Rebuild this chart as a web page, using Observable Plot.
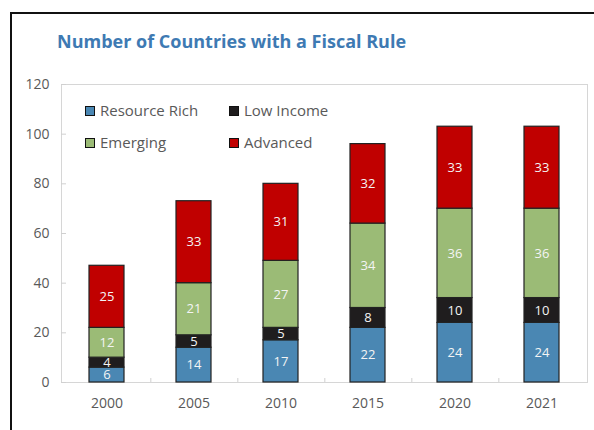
<!DOCTYPE html>
<html>
<head>
<meta charset="utf-8">
<script src="https://cdn.jsdelivr.net/npm/d3@7"></script>
<script src="https://cdn.jsdelivr.net/npm/@observablehq/plot@0.6"></script>
<style>
  html, body { margin: 0; padding: 0; background: #fff; }
  #page { position: relative; width: 594px; height: 430px; overflow: hidden; font-family: "Open Sans", "Noto Sans", sans-serif; background: #fff; }
  #frame { position: absolute; left: 10px; top: 12px; width: 700px; height: 600px; border-left: 2px solid #111; border-top: 2px solid #111; z-index: 3; pointer-events: none; }
  #title { position: absolute; left: 57px; top: 29px; font-size: 18px; font-weight: 700; color: #3e7ab3; white-space: nowrap; }
  #chart { position: absolute; left: 0; top: 60px; }
  .leg { position: absolute; font-size: 15px; color: #595959; white-space: nowrap; line-height: 18px; }
  .leg span.sw { display: inline-block; width: 8px; height: 8px; border: 1px solid #111; margin-right: 5px; vertical-align: 0px; }
</style>
</head>
<body>
<div id="page">
  <div id="chart"></div>
  <div id="title"></div>
  <div id="legend"></div>
  <div id="frame"></div>
</div>
<script>
const title = "Number of Countries with a Fiscal Rule";
const years = ["2000", "2005", "2010", "2015", "2020", "2021"];
const categories = ["Resource Rich", "Low Income", "Emerging", "Advanced"];
const colors = ["#4a87b3", "#1f1d1e", "#9bbb76", "#c00000"];
const resourceRich = [6, 14, 17, 22, 24, 24];
const lowIncome = [4, 5, 5, 8, 10, 10];
const emerging = [12, 21, 27, 34, 36, 36];
const advanced = [25, 33, 31, 32, 33, 33];
const yTicks = [0, 20, 40, 60, 80, 100, 120];

const series = [resourceRich, lowIncome, emerging, advanced];
const data = [];
years.forEach((year, i) => {
  categories.forEach((cat, j) => data.push({year, cat, value: series[j][i]}));
});

document.getElementById("title").textContent = title;

const W = 594, H = 370;
const mL = 61, mR = 7, mT = 24, mB = 48;
const step = (W - mL - mR) / years.length;
const plotH = H - mT - mB;

const chart = Plot.plot({
  width: W,
  height: H,
  marginLeft: mL,
  marginRight: mR,
  marginTop: mT,
  marginBottom: mB,
  style: { fontFamily: "'Open Sans', 'Noto Sans', sans-serif", fontSize: "14px", color: "#595959", background: "transparent" },
  x: { domain: years, paddingInner: 0.6, paddingOuter: 0.3, label: null },
  y: { domain: [0, 120], ticks: yTicks, label: null },
  color: { domain: categories, range: colors },
  marks: [
    Plot.frame({ stroke: "#d6d6d6" }),
    Plot.ruleX(years.slice(0, -1), { x: d => d, dx: step / 2, stroke: "#d0d0d0", insetTop: plotH - 4 }),
    Plot.barY(data, { x: "year", y: "value", fill: "cat", stroke: "#222", strokeWidth: 1.2 }),
    Plot.text(data, Plot.stackY({ x: "year", y: "value", z: "cat", text: d => String(d.value), fill: "#f4f4f4", fontSize: 13 })),
    Plot.axisY({ ticks: yTicks, tickSize: -5, tickPadding: 17, stroke: "#d0d0d0", fill: "#595959", fontSize: 14, label: null }),
    Plot.axisX({ tickSize: 0, tickPadding: 16, fill: "#595959", fontSize: 14, label: null })
  ]
});
document.getElementById("chart").appendChild(chart);

// legend
const legend = document.getElementById("legend");
const pos = [[85, 101], [229, 101], [85, 133], [229, 133]];
categories.forEach((c, i) => {
  const d = document.createElement("div");
  d.className = "leg";
  d.style.left = pos[i][0] + "px";
  d.style.top = pos[i][1] + "px";
  d.innerHTML = `<span class="sw" style="background:${colors[i]}"></span>${c}`;
  legend.appendChild(d);
});
</script>
</body>
</html>
